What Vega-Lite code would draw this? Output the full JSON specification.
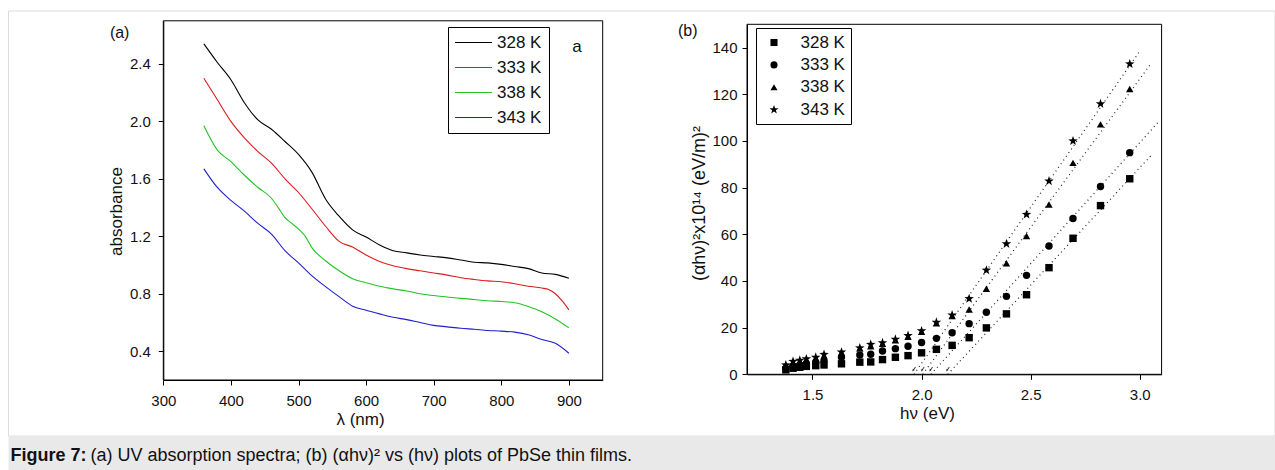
{
  "$schema": "https://vega.github.io/schema/vega-lite/v6.json",
  "width": 1275,
  "height": 470,
  "autosize": {"type": "fit", "contains": "padding"},
  "padding": 0,
  "config": {
    "font": "Liberation Sans",
    "view": {"stroke": null},
    "axis": {
      "grid": false,
      "domainColor": "#000000",
      "tickColor": "#000000",
      "labelColor": "#111111",
      "titleColor": "#111111",
      "labelFontSize": 15,
      "titleFontSize": 17,
      "titleFontWeight": "normal",
      "labelOverlap": false,
      "labelFlush": false,
      "tickSize": 5
    },
    "legend": {"labelFontSize": 17, "labelColor": "#111111"}
  },
  "datasets": {
    "spectra": [
      {"temperature": "328 K", "wavelength": 360, "absorbance": 2.54},
      {"temperature": "328 K", "wavelength": 380, "absorbance": 2.41},
      {"temperature": "328 K", "wavelength": 400, "absorbance": 2.29},
      {"temperature": "328 K", "wavelength": 420, "absorbance": 2.13},
      {"temperature": "328 K", "wavelength": 440, "absorbance": 2.01},
      {"temperature": "328 K", "wavelength": 460, "absorbance": 1.945},
      {"temperature": "328 K", "wavelength": 480, "absorbance": 1.86},
      {"temperature": "328 K", "wavelength": 500, "absorbance": 1.77},
      {"temperature": "328 K", "wavelength": 520, "absorbance": 1.645},
      {"temperature": "328 K", "wavelength": 540, "absorbance": 1.46},
      {"temperature": "328 K", "wavelength": 560, "absorbance": 1.34},
      {"temperature": "328 K", "wavelength": 580, "absorbance": 1.245},
      {"temperature": "328 K", "wavelength": 600, "absorbance": 1.195},
      {"temperature": "328 K", "wavelength": 620, "absorbance": 1.14},
      {"temperature": "328 K", "wavelength": 640, "absorbance": 1.1},
      {"temperature": "328 K", "wavelength": 660, "absorbance": 1.085},
      {"temperature": "328 K", "wavelength": 680, "absorbance": 1.07},
      {"temperature": "328 K", "wavelength": 700, "absorbance": 1.06},
      {"temperature": "328 K", "wavelength": 720, "absorbance": 1.05},
      {"temperature": "328 K", "wavelength": 740, "absorbance": 1.035},
      {"temperature": "328 K", "wavelength": 760, "absorbance": 1.02},
      {"temperature": "328 K", "wavelength": 780, "absorbance": 1.015},
      {"temperature": "328 K", "wavelength": 800, "absorbance": 1.005},
      {"temperature": "328 K", "wavelength": 820, "absorbance": 0.99},
      {"temperature": "328 K", "wavelength": 840, "absorbance": 0.975},
      {"temperature": "328 K", "wavelength": 860, "absorbance": 0.945},
      {"temperature": "328 K", "wavelength": 880, "absorbance": 0.935},
      {"temperature": "328 K", "wavelength": 900, "absorbance": 0.908},
      {"temperature": "333 K", "wavelength": 360, "absorbance": 2.3},
      {"temperature": "333 K", "wavelength": 380, "absorbance": 2.15},
      {"temperature": "333 K", "wavelength": 400, "absorbance": 2.0},
      {"temperature": "333 K", "wavelength": 420, "absorbance": 1.885},
      {"temperature": "333 K", "wavelength": 440, "absorbance": 1.79},
      {"temperature": "333 K", "wavelength": 460, "absorbance": 1.71},
      {"temperature": "333 K", "wavelength": 480, "absorbance": 1.6},
      {"temperature": "333 K", "wavelength": 500, "absorbance": 1.505},
      {"temperature": "333 K", "wavelength": 520, "absorbance": 1.39},
      {"temperature": "333 K", "wavelength": 540, "absorbance": 1.27},
      {"temperature": "333 K", "wavelength": 560, "absorbance": 1.165},
      {"temperature": "333 K", "wavelength": 580, "absorbance": 1.125},
      {"temperature": "333 K", "wavelength": 600, "absorbance": 1.07},
      {"temperature": "333 K", "wavelength": 620, "absorbance": 1.025},
      {"temperature": "333 K", "wavelength": 640, "absorbance": 0.995},
      {"temperature": "333 K", "wavelength": 660, "absorbance": 0.975},
      {"temperature": "333 K", "wavelength": 680, "absorbance": 0.96},
      {"temperature": "333 K", "wavelength": 700, "absorbance": 0.945},
      {"temperature": "333 K", "wavelength": 720, "absorbance": 0.93},
      {"temperature": "333 K", "wavelength": 740, "absorbance": 0.912},
      {"temperature": "333 K", "wavelength": 760, "absorbance": 0.9},
      {"temperature": "333 K", "wavelength": 780, "absorbance": 0.89},
      {"temperature": "333 K", "wavelength": 800, "absorbance": 0.884},
      {"temperature": "333 K", "wavelength": 820, "absorbance": 0.87},
      {"temperature": "333 K", "wavelength": 840, "absorbance": 0.852},
      {"temperature": "333 K", "wavelength": 860, "absorbance": 0.84},
      {"temperature": "333 K", "wavelength": 870, "absorbance": 0.83},
      {"temperature": "333 K", "wavelength": 880, "absorbance": 0.8},
      {"temperature": "333 K", "wavelength": 890, "absorbance": 0.75},
      {"temperature": "333 K", "wavelength": 900, "absorbance": 0.688},
      {"temperature": "338 K", "wavelength": 360, "absorbance": 1.97},
      {"temperature": "338 K", "wavelength": 380, "absorbance": 1.8},
      {"temperature": "338 K", "wavelength": 400, "absorbance": 1.72},
      {"temperature": "338 K", "wavelength": 420, "absorbance": 1.625},
      {"temperature": "338 K", "wavelength": 440, "absorbance": 1.54},
      {"temperature": "338 K", "wavelength": 460, "absorbance": 1.465},
      {"temperature": "338 K", "wavelength": 470, "absorbance": 1.4},
      {"temperature": "338 K", "wavelength": 480, "absorbance": 1.33},
      {"temperature": "338 K", "wavelength": 490, "absorbance": 1.29},
      {"temperature": "338 K", "wavelength": 500, "absorbance": 1.25},
      {"temperature": "338 K", "wavelength": 510, "absorbance": 1.2},
      {"temperature": "338 K", "wavelength": 520, "absorbance": 1.12},
      {"temperature": "338 K", "wavelength": 540, "absorbance": 1.03},
      {"temperature": "338 K", "wavelength": 560, "absorbance": 0.96},
      {"temperature": "338 K", "wavelength": 580, "absorbance": 0.905},
      {"temperature": "338 K", "wavelength": 600, "absorbance": 0.877},
      {"temperature": "338 K", "wavelength": 620, "absorbance": 0.852},
      {"temperature": "338 K", "wavelength": 640, "absorbance": 0.834},
      {"temperature": "338 K", "wavelength": 660, "absorbance": 0.82},
      {"temperature": "338 K", "wavelength": 680, "absorbance": 0.8},
      {"temperature": "338 K", "wavelength": 700, "absorbance": 0.788},
      {"temperature": "338 K", "wavelength": 720, "absorbance": 0.778},
      {"temperature": "338 K", "wavelength": 740, "absorbance": 0.768},
      {"temperature": "338 K", "wavelength": 760, "absorbance": 0.76},
      {"temperature": "338 K", "wavelength": 780, "absorbance": 0.752},
      {"temperature": "338 K", "wavelength": 800, "absorbance": 0.746},
      {"temperature": "338 K", "wavelength": 820, "absorbance": 0.738},
      {"temperature": "338 K", "wavelength": 840, "absorbance": 0.712},
      {"temperature": "338 K", "wavelength": 860, "absorbance": 0.675},
      {"temperature": "338 K", "wavelength": 880, "absorbance": 0.625},
      {"temperature": "338 K", "wavelength": 900, "absorbance": 0.563},
      {"temperature": "343 K", "wavelength": 360, "absorbance": 1.67},
      {"temperature": "343 K", "wavelength": 380, "absorbance": 1.54},
      {"temperature": "343 K", "wavelength": 400, "absorbance": 1.45},
      {"temperature": "343 K", "wavelength": 420, "absorbance": 1.375},
      {"temperature": "343 K", "wavelength": 440, "absorbance": 1.29},
      {"temperature": "343 K", "wavelength": 460, "absorbance": 1.215},
      {"temperature": "343 K", "wavelength": 480, "absorbance": 1.1},
      {"temperature": "343 K", "wavelength": 500, "absorbance": 1.015},
      {"temperature": "343 K", "wavelength": 520, "absorbance": 0.925},
      {"temperature": "343 K", "wavelength": 540, "absorbance": 0.85},
      {"temperature": "343 K", "wavelength": 560, "absorbance": 0.78},
      {"temperature": "343 K", "wavelength": 580, "absorbance": 0.714},
      {"temperature": "343 K", "wavelength": 600, "absorbance": 0.685},
      {"temperature": "343 K", "wavelength": 620, "absorbance": 0.66},
      {"temperature": "343 K", "wavelength": 640, "absorbance": 0.637},
      {"temperature": "343 K", "wavelength": 660, "absorbance": 0.62},
      {"temperature": "343 K", "wavelength": 680, "absorbance": 0.6},
      {"temperature": "343 K", "wavelength": 700, "absorbance": 0.58},
      {"temperature": "343 K", "wavelength": 720, "absorbance": 0.57},
      {"temperature": "343 K", "wavelength": 740, "absorbance": 0.56},
      {"temperature": "343 K", "wavelength": 760, "absorbance": 0.553},
      {"temperature": "343 K", "wavelength": 780, "absorbance": 0.545},
      {"temperature": "343 K", "wavelength": 800, "absorbance": 0.54},
      {"temperature": "343 K", "wavelength": 820, "absorbance": 0.533},
      {"temperature": "343 K", "wavelength": 840, "absorbance": 0.515},
      {"temperature": "343 K", "wavelength": 860, "absorbance": 0.482},
      {"temperature": "343 K", "wavelength": 880, "absorbance": 0.455},
      {"temperature": "343 K", "wavelength": 900, "absorbance": 0.386}
    ],
    "tauc": [
      {"sample": "328 K", "energy": 1.378, "value": 1.9},
      {"sample": "328 K", "energy": 1.411, "value": 2.6},
      {"sample": "328 K", "energy": 1.442, "value": 3.0},
      {"sample": "328 K", "energy": 1.472, "value": 3.4},
      {"sample": "328 K", "energy": 1.515, "value": 3.7},
      {"sample": "328 K", "energy": 1.553, "value": 4.0},
      {"sample": "328 K", "energy": 1.633, "value": 4.5},
      {"sample": "328 K", "energy": 1.717, "value": 5.2},
      {"sample": "328 K", "energy": 1.767, "value": 5.3},
      {"sample": "328 K", "energy": 1.821, "value": 6.3},
      {"sample": "328 K", "energy": 1.88, "value": 7.3},
      {"sample": "328 K", "energy": 1.938, "value": 8.0},
      {"sample": "328 K", "energy": 2.0, "value": 9.2},
      {"sample": "328 K", "energy": 2.068, "value": 10.7},
      {"sample": "328 K", "energy": 2.14, "value": 12.4},
      {"sample": "328 K", "energy": 2.218, "value": 15.7},
      {"sample": "328 K", "energy": 2.297, "value": 19.9},
      {"sample": "328 K", "energy": 2.389, "value": 25.9},
      {"sample": "328 K", "energy": 2.481, "value": 34.1},
      {"sample": "328 K", "energy": 2.584, "value": 45.7},
      {"sample": "328 K", "energy": 2.694, "value": 58.3},
      {"sample": "328 K", "energy": 2.82, "value": 72.3},
      {"sample": "328 K", "energy": 2.954, "value": 83.8},
      {"sample": "333 K", "energy": 1.378, "value": 2.6},
      {"sample": "333 K", "energy": 1.411, "value": 3.6},
      {"sample": "333 K", "energy": 1.442, "value": 4.0},
      {"sample": "333 K", "energy": 1.472, "value": 4.6},
      {"sample": "333 K", "energy": 1.515, "value": 5.2},
      {"sample": "333 K", "energy": 1.553, "value": 5.7},
      {"sample": "333 K", "energy": 1.633, "value": 7.3},
      {"sample": "333 K", "energy": 1.717, "value": 8.3},
      {"sample": "333 K", "energy": 1.767, "value": 8.6},
      {"sample": "333 K", "energy": 1.821, "value": 10.0},
      {"sample": "333 K", "energy": 1.88, "value": 11.0},
      {"sample": "333 K", "energy": 1.938, "value": 12.0},
      {"sample": "333 K", "energy": 2.0, "value": 13.6},
      {"sample": "333 K", "energy": 2.068, "value": 15.4},
      {"sample": "333 K", "energy": 2.14, "value": 17.8},
      {"sample": "333 K", "energy": 2.218, "value": 21.7},
      {"sample": "333 K", "energy": 2.297, "value": 26.6},
      {"sample": "333 K", "energy": 2.389, "value": 33.4},
      {"sample": "333 K", "energy": 2.481, "value": 42.4},
      {"sample": "333 K", "energy": 2.584, "value": 55.0},
      {"sample": "333 K", "energy": 2.694, "value": 66.8},
      {"sample": "333 K", "energy": 2.82, "value": 80.5},
      {"sample": "333 K", "energy": 2.954, "value": 95.0},
      {"sample": "338 K", "energy": 1.378, "value": 3.7},
      {"sample": "338 K", "energy": 1.411, "value": 5.0},
      {"sample": "338 K", "energy": 1.442, "value": 5.6},
      {"sample": "338 K", "energy": 1.472, "value": 6.2},
      {"sample": "338 K", "energy": 1.515, "value": 6.8},
      {"sample": "338 K", "energy": 1.553, "value": 7.8},
      {"sample": "338 K", "energy": 1.633, "value": 9.3},
      {"sample": "338 K", "energy": 1.717, "value": 11.2},
      {"sample": "338 K", "energy": 1.767, "value": 12.0},
      {"sample": "338 K", "energy": 1.821, "value": 13.1},
      {"sample": "338 K", "energy": 1.88, "value": 14.6},
      {"sample": "338 K", "energy": 1.938, "value": 16.1},
      {"sample": "338 K", "energy": 2.0, "value": 18.2},
      {"sample": "338 K", "energy": 2.068, "value": 21.9},
      {"sample": "338 K", "energy": 2.14, "value": 25.0},
      {"sample": "338 K", "energy": 2.218, "value": 27.8},
      {"sample": "338 K", "energy": 2.297, "value": 36.7},
      {"sample": "338 K", "energy": 2.389, "value": 47.6},
      {"sample": "338 K", "energy": 2.481, "value": 59.3},
      {"sample": "338 K", "energy": 2.584, "value": 72.8},
      {"sample": "338 K", "energy": 2.694, "value": 90.6},
      {"sample": "338 K", "energy": 2.82, "value": 107.1},
      {"sample": "338 K", "energy": 2.954, "value": 122.3},
      {"sample": "343 K", "energy": 1.378, "value": 4.0},
      {"sample": "343 K", "energy": 1.411, "value": 5.5},
      {"sample": "343 K", "energy": 1.442, "value": 6.0},
      {"sample": "343 K", "energy": 1.472, "value": 6.6},
      {"sample": "343 K", "energy": 1.515, "value": 7.3},
      {"sample": "343 K", "energy": 1.553, "value": 8.5},
      {"sample": "343 K", "energy": 1.633, "value": 9.5},
      {"sample": "343 K", "energy": 1.717, "value": 11.3},
      {"sample": "343 K", "energy": 1.767, "value": 12.8},
      {"sample": "343 K", "energy": 1.821, "value": 13.5},
      {"sample": "343 K", "energy": 1.88, "value": 15.0},
      {"sample": "343 K", "energy": 1.938, "value": 16.6},
      {"sample": "343 K", "energy": 2.0, "value": 18.6},
      {"sample": "343 K", "energy": 2.068, "value": 22.3},
      {"sample": "343 K", "energy": 2.14, "value": 25.4},
      {"sample": "343 K", "energy": 2.218, "value": 32.4},
      {"sample": "343 K", "energy": 2.297, "value": 44.6},
      {"sample": "343 K", "energy": 2.389, "value": 55.9},
      {"sample": "343 K", "energy": 2.481, "value": 68.5},
      {"sample": "343 K", "energy": 2.584, "value": 82.8},
      {"sample": "343 K", "energy": 2.694, "value": 100.0},
      {"sample": "343 K", "energy": 2.82, "value": 115.9},
      {"sample": "343 K", "energy": 2.954, "value": 133.0}
    ],
    "fits": [
      {"sample": "328 K", "energy": 2.12, "value": 0},
      {"sample": "328 K", "energy": 3.054, "value": 94},
      {"sample": "333 K", "energy": 2.043, "value": 0},
      {"sample": "333 K", "energy": 3.084, "value": 108},
      {"sample": "338 K", "energy": 2.005, "value": 0},
      {"sample": "338 K", "energy": 3.047, "value": 132.6},
      {"sample": "343 K", "energy": 1.965, "value": 0},
      {"sample": "343 K", "energy": 3.0, "value": 138.5}
    ],
    "intercepts": [
      {"sample": "328 K", "energy": 2.12},
      {"sample": "333 K", "energy": 2.043},
      {"sample": "338 K", "energy": 2.005},
      {"sample": "343 K", "energy": 1.965}
    ]
  },
  "layer": [
    {
      "layer": [
        {
          "data": {"name": "spectra"},
          "mark": {"type": "line", "strokeWidth": 1.1, "interpolate": "monotone"},
          "encoding": {
            "x": {
              "field": "wavelength", "type": "quantitative",
              "scale": {"domain": [300, 950], "range": [163.3, 602.7], "nice": false, "zero": false},
              "axis": {
                "orient": "bottom",
                "offset": -90,
                "title": "λ  (nm)",
                "titleX": 360,
                "titlePadding": 3,
                "values": [300, 400, 500, 600, 700, 800, 900],
                "format": "d",
                "labelPadding": 8
              }
            },
            "y": {
              "field": "absorbance", "type": "quantitative",
              "scale": {"domain": [0.2, 2.7], "range": [380, 20.8], "nice": false, "zero": false},
              "axis": {
                "orient": "left",
                "offset": -163.3,
                "title": "absorbance",
                "titleY": 211,
                "titlePadding": 4,
                "values": [0.4, 0.8, 1.2, 1.6, 2.0, 2.4],
                "format": ".1f",
                "labelPadding": 8
              }
            },
            "color": {
              "field": "temperature", "type": "nominal",
              "scale": {"domain": ["328 K", "333 K", "338 K", "343 K"], "range": ["#000000", "#dd1c1c", "#22c422", "#1f1fcf"]},
              "legend": {
                "title": null,
                "orient": "none",
                "legendX": 448,
                "legendY": 27,
                "strokeColor": "#000000",
                "padding": 7,
                "rowPadding": 7,
                "symbolType": "M-1.7,0H5.7",
                "symbolSize": 100,
                "symbolStrokeWidth": 1.2,
                "labelOffset": 25
              }
            }
          }
        },
        {
          "data": {"values": [{"panel": "a"}]},
          "mark": {"type": "rect", "filled": false, "color": "#000000", "strokeWidth": 1},
          "encoding": {
            "x": {"datum": 300, "type": "quantitative"},
            "x2": {"datum": 950},
            "y": {"datum": 0.2, "type": "quantitative"},
            "y2": {"datum": 2.7}
          }
        },
        {
          "data": {"values": [{"tag": "a"}]},
          "mark": {"type": "text", "fontSize": 17, "align": "center", "baseline": "middle", "color": "#111111"},
          "encoding": {
            "x": {"datum": 912, "type": "quantitative"},
            "y": {"datum": 2.52, "type": "quantitative"},
            "text": {"field": "tag"}
          }
        },
        {
          "data": {"values": [{"tag": "(a)"}]},
          "mark": {"type": "text", "fontSize": 16, "align": "left", "baseline": "middle", "color": "#111111"},
          "encoding": {
            "x": {"datum": 221, "type": "quantitative"},
            "y": {"datum": 2.614, "type": "quantitative"},
            "text": {"field": "tag"}
          }
        }
      ]
    },
    {
      "layer": [
        {
          "data": {"name": "fits"},
          "mark": {"type": "line", "strokeDash": [1, 3.5], "strokeWidth": 1.2, "color": "#222222"},
          "encoding": {
            "x": {
              "field": "energy", "type": "quantitative",
              "scale": {"domain": [1.2, 3.1], "range": [747, 1161.6], "nice": false, "zero": false},
              "axis": {
                "orient": "bottom",
                "offset": -95.7,
                "title": "hν (eV)",
                "titleX": 927,
                "titlePadding": 3,
                "values": [1.5, 2.0, 2.5, 3.0],
                "format": ".1f",
                "labelPadding": 8
              }
            },
            "y": {
              "field": "value", "type": "quantitative",
              "scale": {"domain": [0, 150], "range": [374.3, 24.3], "nice": false},
              "axis": {
                "orient": "left",
                "offset": -747,
                "title": "(αhν)²x10¹⁴ (eV/m)²",
                "titleY": 203,
                "titlePadding": 3,
                "titleFontSize": 18,
                "values": [0, 20, 40, 60, 80, 100, 120, 140],
                "format": "d",
                "labelPadding": 5
              }
            },
            "detail": {"field": "sample", "type": "nominal"}
          }
        },
        {
          "data": {"name": "tauc"},
          "mark": {"type": "point", "filled": true, "opacity": 1, "color": "#000000", "size": 55},
          "encoding": {
            "x": {"field": "energy", "type": "quantitative"},
            "y": {"field": "value", "type": "quantitative"},
            "shape": {
              "field": "sample", "type": "nominal",
              "scale": {
                "domain": ["343 K", "338 K", "333 K", "328 K"],
                "range": ["M0,-1.35L0.317,-0.437L1.284,-0.417L0.513,0.167L0.794,1.092L0,0.54L-0.794,1.092L-0.513,0.167L-1.284,-0.417L-0.317,-0.437Z", "triangle-up", "circle", "square"]
              },
              "legend": {
                "title": null,
                "values": ["328 K", "333 K", "338 K", "343 K"],
                "orient": "none",
                "legendX": 756,
                "legendY": 28,
                "strokeColor": "#000000",
                "padding": 6,
                "rowPadding": 4.4,
                "symbolSize": 50,
                "symbolFillColor": "#000000",
                "symbolStrokeColor": "#000000",
                "symbolOffset": 3.5,
                "labelOffset": 18
              }
            }
          }
        },
        {
          "data": {"name": "intercepts"},
          "mark": {"type": "point", "shape": "arrow", "angle": 215, "filled": true, "size": 30, "opacity": 1, "color": "#222222"},
          "encoding": {
            "x": {"field": "energy", "type": "quantitative"},
            "y": {"datum": 2.2, "type": "quantitative"}
          }
        },
        {
          "data": {"values": [{"panel": "b"}]},
          "mark": {"type": "rect", "filled": false, "color": "#000000", "strokeWidth": 1},
          "encoding": {
            "x": {"datum": 1.2, "type": "quantitative"},
            "x2": {"datum": 3.1},
            "y": {"datum": 0, "type": "quantitative"},
            "y2": {"datum": 150}
          }
        },
        {
          "data": {"values": [{"tag": "(b)"}]},
          "mark": {"type": "text", "fontSize": 16, "align": "left", "baseline": "middle", "color": "#111111"},
          "encoding": {
            "x": {"datum": 0.884, "type": "quantitative"},
            "y": {"datum": 147.1, "type": "quantitative"},
            "text": {"field": "tag"}
          }
        }
      ]
    },
    {
      "data": {"values": [{"lead": "Figure 7:", "body": "(a) UV absorption spectra; (b) (αhν)² vs (hν) plots of PbSe thin films."}]},
      "layer": [
        {
          "mark": {"type": "rect", "filled": false, "color": "#dcdcdc", "strokeWidth": 1},
          "encoding": {
            "x": {"datum": 0, "type": "quantitative", "scale": {"domain": [0, 1], "range": [8.5, 1275]}, "axis": null},
            "x2": {"datum": 1},
            "y": {"datum": 1, "type": "quantitative", "scale": {"domain": [0, 1], "range": [470, 436]}, "axis": null},
            "y2": {"datum": 13.5}
          }
        },
        {
          "mark": {"type": "rect", "color": "#e9e9e9"},
          "encoding": {
            "x": {"datum": 0, "type": "quantitative"},
            "x2": {"datum": 1},
            "y": {"datum": 0, "type": "quantitative"},
            "y2": {"datum": 1}
          }
        },
        {
          "mark": {"type": "text", "align": "left", "baseline": "middle", "fontSize": 18, "fontWeight": "bold", "color": "#111111", "dx": 2, "dy": 3},
          "encoding": {
            "x": {"datum": 0, "type": "quantitative"},
            "y": {"datum": 0.5, "type": "quantitative"},
            "text": {"field": "lead"}
          }
        },
        {
          "mark": {"type": "text", "align": "left", "baseline": "middle", "fontSize": 18, "color": "#111111", "dx": 82, "dy": 3},
          "encoding": {
            "x": {"datum": 0, "type": "quantitative"},
            "y": {"datum": 0.5, "type": "quantitative"},
            "text": {"field": "body"}
          }
        }
      ]
    }
  ],
  "resolve": {
    "scale": {"x": "independent", "y": "independent"},
    "axis": {"x": "independent", "y": "independent"}
  }
}
